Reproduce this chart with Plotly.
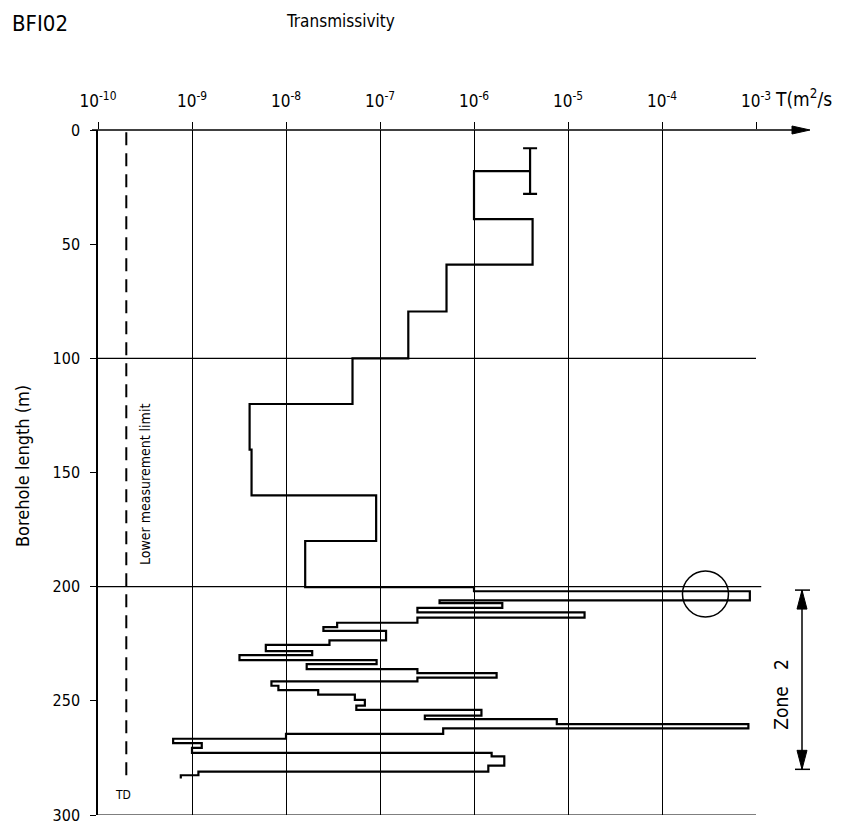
import math
import plotly.graph_objects as go

# ---------------- data ----------------
# section boundaries along the borehole (m) and the transmissivity of each section (m2/s)
depth_bounds = [18, 39, 59, 79.5, 100, 120, 140, 160, 180, 200.2,
                202, 206, 207.2, 209.3, 211.3, 213.6, 215.8, 217.7, 219.4, 223.5,
                225.5, 228.2, 230.0, 232.2, 233.9, 236.1, 237.9, 239.8, 241.5, 243.4,
                245.3, 247.3, 249.6, 252.1, 254.0, 256.5, 258.0, 260.2, 262.1, 264.5,
                266.6, 268.5, 270.6, 272.8, 274.3, 278.4, 281.0, 282.6, 284.0]
transmissivity = [1.0e-6, 4.2e-6, 5.1e-7, 2.0e-7, 5.1e-8, 4.1e-9, 4.3e-9, 9.1e-8, 1.6e-8,
                  1.0e-6, 8.6e-4, 4.3e-7, 2.0e-6, 2.5e-7, 1.5e-5, 2.5e-7, 3.5e-8, 2.5e-8, 1.16e-7,
                  2.9e-8, 6.1e-9, 1.9e-8, 3.2e-9, 9.2e-8, 1.66e-8, 2.5e-7, 1.74e-6, 2.5e-7, 7.0e-9,
                  8.3e-9, 2.2e-8, 5.4e-8, 6.9e-8, 5.6e-8, 1.2e-6, 3.0e-7, 7.6e-6, 8.3e-4, 4.7e-7,
                  1.0e-8, 6.3e-10, 1.27e-9, 1.0e-9, 1.54e-6, 2.1e-6, 1.42e-6, 1.17e-9, 7.6e-10]

# error bar of the top measurement
err_T = 3.95e-6
err_depth = 18
err_half = 10

# lower measurement limit
lower_limit_T = 2.0e-10
lower_limit_depths = [1, 285]

# marked anomaly (circle) and zone 2 extent
circle_T = 2.9e-4
circle_depth = 203.2
zone2_depths = [201.5, 280]

decades = [-10, -9, -8, -7, -6, -5, -4, -3]
x_tick_labels = ["10<sup>-10</sup>", "10<sup>-9</sup>", "10<sup>-8</sup>", "10<sup>-7</sup>",
                 "10<sup>-6</sup>", "10<sup>-5</sup>", "10<sup>-4</sup>", "10<sup>-3</sup>"]
y_ticks = [0, 50, 100, 150, 200, 250, 300]
h_lines = [100, 200, 300]

# ---------------- geometry helpers ----------------
W, H = 866, 837
ML, MR, MT, MB = 98, 110, 130, 18
PW = W - ML - MR
PH = H - MT - MB
FONT = "Liberation Sans Narrow, DejaVu Sans Condensed, DejaVu Sans, sans-serif"


def px_x(px):
    return (px - ML) / PW


def px_y(py):
    return (H - MB - py) / PH


def t_paper(t):
    return (math.log10(t) - decades[0]) / (decades[-1] - decades[0])


# ---------------- step profile ----------------
xs = [err_T]
ys = [depth_bounds[0]]
for i, v in enumerate(transmissivity):
    xs += [v, v]
    ys += [depth_bounds[i], depth_bounds[i + 1]]

fig = go.Figure()
fig.add_trace(go.Scatter(x=xs, y=ys, mode="lines",
                         line=dict(color="black", width=2.2), hoverinfo="skip"))
fig.add_trace(go.Scatter(x=[err_T], y=[err_depth], mode="markers",
                         marker=dict(size=1, color="rgba(0,0,0,0)"),
                         error_y=dict(type="constant", value=err_half, width=7,
                                      thickness=2.2, color="black")))
fig.add_trace(go.Scatter(x=[lower_limit_T, lower_limit_T], y=lower_limit_depths, mode="lines",
                         line=dict(color="black", width=2, dash="13px,8px")))

shapes = []
for d in h_lines:
    shapes.append(dict(type="line", xref="paper", yref="y", x0=0, x1=1.008 if d == 200 else 1,
                       y0=d, y1=d, line=dict(color="black", width=1.2)))
# x-axis line with arrow
shapes.append(dict(type="line", xref="paper", yref="paper", x0=px_x(92), x1=px_x(796),
                   y0=1, y1=1, line=dict(color="black", width=1.5)))
shapes.append(dict(type="path", xref="paper", yref="paper", xsizemode="pixel", ysizemode="pixel",
                   xanchor=px_x(810), yanchor=1, path="M0,0 L-18,4 L-18,-4 Z",
                   fillcolor="black", line=dict(color="black", width=1)))
# circle
shapes.append(dict(type="circle", xref="paper", yref="y", xsizemode="pixel", ysizemode="pixel",
                   xanchor=t_paper(circle_T), yanchor=circle_depth, x0=-23, x1=23, y0=-23, y1=23,
                   line=dict(color="black", width=1.5)))
# zone 2 arrow
zx = px_x(802)
shapes.append(dict(type="line", xref="paper", yref="y", x0=zx, x1=zx,
                   y0=zone2_depths[0], y1=zone2_depths[1], line=dict(color="black", width=1.5)))
for d in zone2_depths:
    shapes.append(dict(type="line", xref="paper", yref="y", x0=px_x(795), x1=px_x(810),
                       y0=d, y1=d, line=dict(color="black", width=1.5)))
shapes.append(dict(type="path", xref="paper", yref="y", xsizemode="pixel", ysizemode="pixel",
                   xanchor=zx, yanchor=zone2_depths[0], path="M0,0 L-5,-19 L5,-19 Z",
                   fillcolor="black", line=dict(color="black", width=1)))
shapes.append(dict(type="path", xref="paper", yref="y", xsizemode="pixel", ysizemode="pixel",
                   xanchor=zx, yanchor=zone2_depths[1], path="M0,0 L-5,19 L5,19 Z",
                   fillcolor="black", line=dict(color="black", width=1)))

ann = []


def text(s, px, py, size, xanchor="center", angle=0):
    ann.append(dict(text=s, xref="paper", yref="paper", x=px_x(px), y=px_y(py),
                    xanchor=xanchor, yanchor="middle", showarrow=False, textangle=angle,
                    font=dict(family=FONT, size=size, color="black")))


text("BFI02", 10, 23, 22, xanchor="left")
text("Transmissivity", 284, 20, 17, xanchor="left")
text("T(m<sup>2</sup>/s", 773, 98, 19, xanchor="left")
text("Borehole length (m)", 22, 468, 18, angle=-90)
text("Lower measurement limit", 145, 487, 14, angle=-90)
text("TD", 123, 799, 12)
text("Zone   2", 781, 698, 19, angle=-90)

fig.update_layout(
    width=W, height=H,
    margin=dict(l=ML, r=MR, t=MT, b=MB, pad=0),
    paper_bgcolor="white", plot_bgcolor="white",
    showlegend=False,
    font=dict(family=FONT, color="black"),
    shapes=shapes, annotations=ann,
    xaxis=dict(type="log", range=[decades[0], decades[-1]], side="top",
               tickvals=[10 ** d for d in decades], ticktext=x_tick_labels,
               showgrid=True, gridcolor="black", gridwidth=1.2,
               ticks="outside", ticklen=7, tickwidth=1.2, tickcolor="black",
               ticklabelstandoff=8,
               showline=False, zeroline=False, tickfont=dict(size=17, family=FONT)),
    yaxis=dict(range=[300, 0], tickvals=y_ticks, showgrid=False, zeroline=False,
               showline=True, linecolor="black", linewidth=1.5,
               ticks="outside", ticklen=6, tickwidth=1.2, tickcolor="black",
               ticklabelstandoff=7, tickfont=dict(size=16, family=FONT)),
)

fig.write_html("out.html")
